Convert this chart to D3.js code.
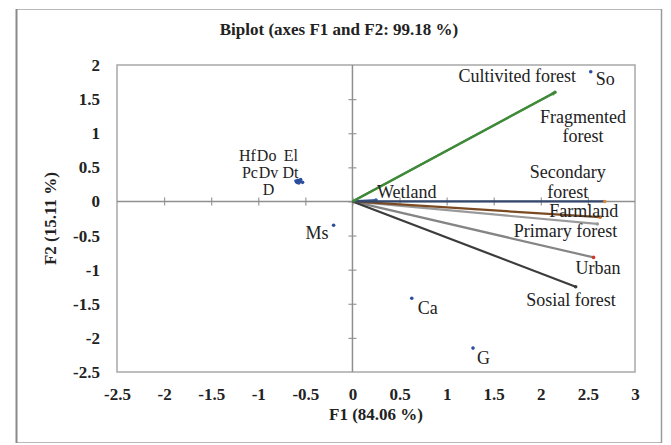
<!DOCTYPE html>
<html><head><meta charset="utf-8">
<script src="https://cdn.jsdelivr.net/npm/d3@7"></script>
<style>
body{margin:0;background:#fff;}
text{font-family:"Liberation Serif","Times New Roman",serif;fill:#222;}
</style></head>
<body><svg id="c" width="671" height="445"></svg>
<script>
// ---- data ----
const obsNames = ["So","Hf","Do","El","Pc","Dv","Dt","D","Ms","Ca","G"];
const obsF1 = [2.53,-0.60,-0.58,-0.55,-0.59,-0.56,-0.53,-0.57,-0.20,0.63,1.28];
const obsF2 = [1.90,0.30,0.31,0.32,0.28,0.29,0.28,0.27,-0.35,-1.42,-2.15];

const varNames = ["Wetland","Cultivited forest","Fragmented forest","Secondary forest","Farmland","Primary forest","Urban","Sosial forest"];
const varF1 = [0.25,2.15,2.13,2.68,2.63,2.60,2.56,2.37];
const varF2 = [0.02,1.60,1.58,0.00,-0.23,-0.33,-0.82,-1.25];

const xTicks = [-2.5,-2,-1.5,-1,-0.5,0,0.5,1,1.5,2,2.5,3];
const yTicks = [-2.5,-2,-1.5,-1,-0.5,0,0.5,1,1.5,2];

// ---- styles / layout (not data) ----
const varColors = {"Wetland":"#3a5fa8","Cultivited forest":"#3f8a3a","Fragmented forest":"#4d8f3f",
  "Secondary forest":"#34486e","Farmland":"#7a4b22","Primary forest":"#9a9a9a","Urban":"#858585","Sosial forest":"#3c3c3c"};
const varMarker = {"Wetland":"#3a5fa8","Cultivited forest":"#3f8a3a","Fragmented forest":"#4d8f3f",
  "Secondary forest":"#d98a3a","Farmland":"#c07030","Primary forest":"#9a9a9a","Urban":"#d03a2a","Sosial forest":"#3c3c3c"};
// label offsets in pixels: [dx, dy, anchor, fontsize]
const obsLabel = {"So":[5,13,"start",18],"Hf":[-57,-20,"start",16],"Do":[-41,-19,"start",16],"El":[-17,-19,"start",16],
  "Pc":[-55,-4,"start",16],"Dv":[-41,-4,"start",16],"Dt":[-20,-4,"start",16],"D":[-36,12,"start",16],
  "Ms":[-5,14,"end",18],"Ca":[6,16,"start",18],"G":[4,16,"start",18]};
const varLabel = {"Wetland":[{t:"Wetland",dx:1,dy:-2,a:"start"}],
  "Cultivited forest":[{t:"Cultivited forest",dx:21,dy:-10,a:"end"}],
  "Fragmented forest":[{t:"Fragmented",dx:30,dy:29,a:"middle"},{t:"forest",dx:30,dy:48,a:"middle"}],
  "Secondary forest":[{t:"Secondary",dx:-37,dy:-23,a:"middle"},{t:"forest",dx:-37,dy:-3,a:"middle"}],
  "Farmland":[{t:"Farmland",dx:18,dy:0,a:"end"}],
  "Primary forest":[{t:"Primary forest",dx:20,dy:13,a:"end"}],
  "Urban":[{t:"Urban",dx:27,dy:17,a:"end"}],
  "Sosial forest":[{t:"Sosial forest",dx:40,dy:19,a:"end"}]};

const svg = d3.select("#c");
const L=117,R=635,T=65,B=372;
const x = d3.scaleLinear().domain([-2.5,3]).range([L,R]);
const y = d3.scaleLinear().domain([-2.5,2]).range([B,T]);
const fmt = d => String(d);

// outer frame
svg.append("rect").attr("x",16.5).attr("y",9.5).attr("width",645).attr("height",433)
  .attr("fill","none").attr("stroke","#b8b8b8").attr("stroke-width",1);
svg.append("line").attr("x1",16.5).attr("x2",16.5).attr("y1",9).attr("y2",443).attr("stroke","#8a8a8a").attr("stroke-width",2);
svg.append("line").attr("x1",661.5).attr("x2",661.5).attr("y1",9).attr("y2",443).attr("stroke","#9a9a9a").attr("stroke-width",1.5);

// title
svg.append("text").attr("x",339).attr("y",35).attr("text-anchor","middle")
  .style("font-weight","bold").style("font-size","17px").text("Biplot (axes F1 and F2: 99.18 %)");

// plot border
svg.append("rect").attr("x",L).attr("y",T).attr("width",R-L).attr("height",B-T)
  .attr("fill","none").attr("stroke","#a8a8a8").attr("stroke-width",1.5);

// tick labels (outside)
const gx = svg.append("g").attr("transform",`translate(0,${B})`)
  .call(d3.axisBottom(x).tickValues(xTicks).tickFormat(fmt).tickSize(0).tickPadding(16));
const gy = svg.append("g").attr("transform",`translate(${L},0)`)
  .call(d3.axisLeft(y).tickValues(yTicks).tickFormat(fmt).tickSize(0).tickPadding(17));
[gx,gy].forEach(g=>{g.select(".domain").remove();
  g.selectAll("text").style("font-size","17px").style("font-family","Liberation Serif").style("fill","#222").style("font-weight","bold");});

// zero axes with cross ticks
const ax = svg.append("g").attr("transform",`translate(0,${y(0)+4})`)
  .call(d3.axisTop(x).tickValues(xTicks.filter(v=>v>-2.5&&v<3)).tickSize(8).tickFormat(""));
const ay = svg.append("g").attr("transform",`translate(${x(0)+4},0)`)
  .call(d3.axisLeft(y).tickValues(yTicks.filter(v=>v>-2.5&&v<2)).tickSize(8).tickFormat(""));
[ax,ay].forEach(g=>{g.select(".domain").remove(); g.selectAll("line").attr("stroke","#9a9a9a").attr("stroke-width",1.2);});
svg.append("line").attr("x1",L).attr("x2",R).attr("y1",y(0)).attr("y2",y(0)).attr("stroke","#8f8f8f").attr("stroke-width",1.5);
svg.append("line").attr("x1",x(0)).attr("x2",x(0)).attr("y1",T).attr("y2",B).attr("stroke","#8f8f8f").attr("stroke-width",1.5);

// vectors
const vars = varNames.map((n,i)=>({n,f1:varF1[i],f2:varF2[i]}));
const drawOrder = ["Wetland","Primary forest","Urban","Sosial forest","Farmland","Secondary forest","Fragmented forest","Cultivited forest"];
drawOrder.forEach(n=>{
  const v = vars.find(d=>d.n===n);
  svg.append("line").attr("x1",x(0)).attr("y1",y(0)).attr("x2",x(v.f1)).attr("y2",y(v.f2))
    .attr("stroke",varColors[n]).attr("stroke-width",2.2);
  svg.append("circle").attr("cx",x(v.f1)).attr("cy",y(v.f2)).attr("r",1.8).attr("fill",varMarker[n]);
});
vars.forEach(v=>{
  varLabel[v.n].forEach(l=>{
    svg.append("text").attr("x",x(v.f1)+l.dx).attr("y",y(v.f2)+l.dy).attr("text-anchor",l.a)
      .style("font-size","18px").text(l.t);
  });
});

// observations
const obs = obsNames.map((n,i)=>({n,f1:obsF1[i],f2:obsF2[i]}));
svg.append("g").selectAll("circle").data(obs).join("circle")
  .attr("cx",d=>x(d.f1)).attr("cy",d=>y(d.f2)).attr("r",1.8).attr("fill","#2b4f9c");
svg.append("g").selectAll("text").data(obs).join("text")
  .attr("x",d=>x(d.f1)+obsLabel[d.n][0]).attr("y",d=>y(d.f2)+obsLabel[d.n][1])
  .attr("text-anchor",d=>obsLabel[d.n][2]).style("font-size",d=>obsLabel[d.n][3]+"px").text(d=>d.n);

// axis titles
svg.append("text").attr("x",(L+R)/2).attr("y",420).attr("text-anchor","middle")
  .style("font-weight","bold").style("font-size","17px").text("F1 (84.06 %)");
svg.append("text").attr("transform",`translate(56,${(T+B)/2}) rotate(-90)`).attr("text-anchor","middle")
  .style("font-weight","bold").style("font-size","17px").text("F2 (15.11 %)");
</script></body></html>
